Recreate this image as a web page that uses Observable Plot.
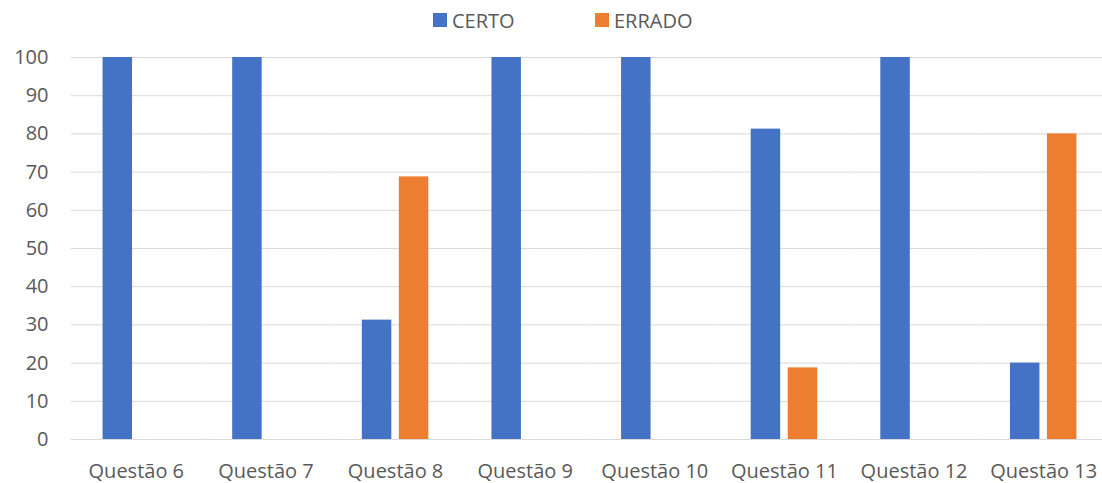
<!DOCTYPE html>
<html>
<head>
<meta charset="utf-8">
<script src="https://cdn.jsdelivr.net/npm/d3@7"></script>
<script src="https://cdn.jsdelivr.net/npm/@observablehq/plot@0.6"></script>
<style>
  html, body { margin: 0; padding: 0; background: #fff; font-family: "Open Sans", sans-serif; overflow: hidden; }
  #legend { height: 40px; position: relative; color: #595959; font-size: 20px; }
  .item { position: absolute; top: 0; height: 40px; display: flex; align-items: center; }
  .sw { width: 14px; height: 14px; margin-right: 5px; }
  #chart svg { display: block; max-width: none; }
</style>
</head>
<body>
<div id="legend"></div>
<div id="chart"></div>
<script>
const questions = ["Questão 6", "Questão 7", "Questão 8", "Questão 9", "Questão 10", "Questão 11", "Questão 12", "Questão 13"];
const series = ["CERTO", "ERRADO"];
const certo = [100, 100, 31.25, 100, 100, 81.25, 100, 20];
const errado = [0, 0, 68.75, 0, 0, 18.75, 0, 80];
const yTicks = [0, 10, 20, 30, 40, 50, 60, 70, 80, 90, 100];
const colors = ["#4472C4", "#ED7D31"];

const data = [];
questions.forEach((q, i) => {
  data.push({q, s: series[0], v: certo[i]});
  data.push({q, s: series[1], v: errado[i]});
});

// legend
const legend = document.getElementById("legend");
const legendX = [433, 595];
series.forEach((s, i) => {
  const it = document.createElement("div");
  it.className = "item";
  it.style.left = legendX[i] + "px";
  it.innerHTML = `<span class="sw" style="background:${colors[i]}"></span><span>${s}</span>`;
  legend.appendChild(it);
});

const plot = Plot.plot({
  width: 1108,
  height: 443,
  marginTop: 17,
  marginBottom: 44,
  marginLeft: 71,
  marginRight: 0,
  style: {fontFamily: "Open Sans", fontSize: "20px", color: "#595959", background: "#fff"},
  fx: {domain: questions, padding: 0, round: false, axis: "bottom", tickSize: 0, tickPadding: 24, label: null},
  x: {domain: series, paddingInner: 0.203, paddingOuter: 0.853, round: false, axis: null},
  y: {domain: [0, 100], ticks: yTicks, tickSize: 0, tickPadding: 23, label: null},
  color: {domain: series, range: colors},
  marks: [
    Plot.ruleY(yTicks, {stroke: "#d9d9d9", strokeWidth: 1}),
    Plot.barY(data, {fx: "q", x: "s", y: "v", fill: "s"})
  ]
});
document.getElementById("chart").appendChild(plot);
</script>
</body>
</html>
